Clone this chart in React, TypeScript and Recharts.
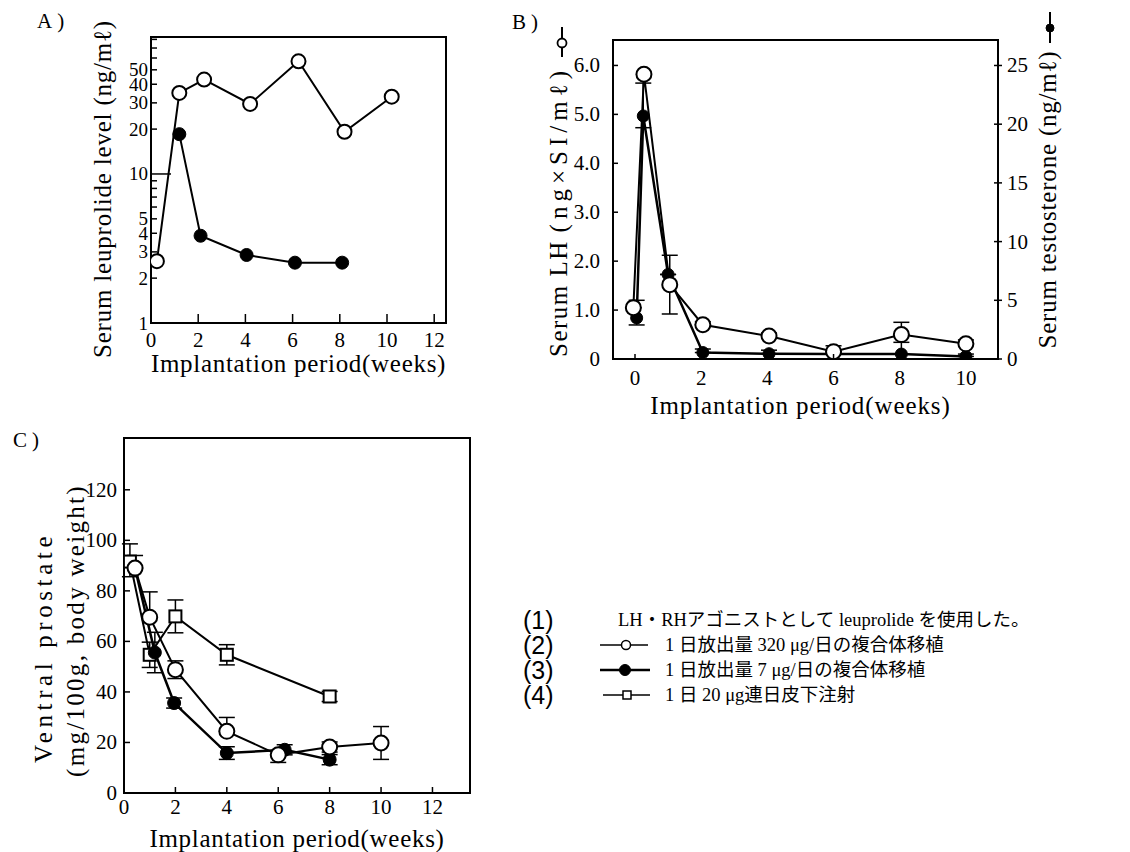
import React from 'react';
import { LineChart, Line, XAxis, YAxis, ReferenceArea, ErrorBar, Label } from 'recharts';

const SERIF = '"Liberation Serif", "DejaVu Serif", serif';
const SANS = '"Liberation Sans", "DejaVu Sans", sans-serif';
const JPF = '"Liberation Serif", "Noto Sans CJK JP", serif';

// ---------------- Panel A : serum leuprolide (log) ----------------
const aWeeksHigh = [0.25, 1.2, 2.25, 4.2, 6.25, 8.2, 10.2];
const aLevelHigh = [2.6, 35, 43, 29.5, 57, 19.2, 33];
const aWeeksLow = [1.2, 2.1, 4.05, 6.1, 8.1];
const aLevelLow = [18.5, 3.85, 2.86, 2.54, 2.54];
const aXTicks = [0, 2, 4, 6, 8, 10, 12];
const aYTicks = [1, 2, 3, 4, 5, 6, 7, 8, 9, 10, 20, 30, 40, 50, 60, 70, 80];
const aYLabels = [1, 2, 3, 4, 5, 10, 20, 30, 40, 50];
const aXDomain: [number, number] = [0, 12.5];
const aYDomain: [number, number] = [1, 83];

// ---------------- Panel B : LH (left) & testosterone (right) ----------------
const bWeeksLH = [-0.05, 0.27, 1.05, 2.05, 4.05, 6.0, 8.05, 10.0];
const bLH = [1.05, 5.82, 1.52, 0.7, 0.47, 0.15, 0.5, 0.31];
const bLHErr = [[0, 0], [0, 0], [0.6, 0.6], [0, 0.06], [0, 0.06], [0, 0.12], [0, 0.25], [0, 0.08]];
const bWeeksT = [0.05, 0.25, 1.0, 2.05, 4.05, 6.0, 8.05, 10.0];
const bT = [3.5, 20.7, 7.2, 0.55, 0.45, 0.42, 0.42, 0.22];
const bTErr = [[0.6, 1.5], [1.0, 2.8], [0, 0], [0, 0.3], [0, 0.3], [0, 0.2], [0, 1.0], [0, 0.2]];
const bXTicks = [0, 2, 4, 6, 8, 10];
const bLHTicks = [0, 1, 2, 3, 4, 5, 6];
const bTTicks = [0, 5, 10, 15, 20, 25];
const bXDomain: [number, number] = [-0.665, 10.97];
const bLHDomain: [number, number] = [0, 6.52];
const bTDomain: [number, number] = [0, 27.17];

// ---------------- Panel C : ventral prostate ----------------
const cWeeksHigh = [0.43, 1.0, 2.0, 4.0, 6.0, 8.0, 10.0];
const cHigh = [89, 69.6, 48.8, 24.4, 15.1, 18.2, 19.8];
const cHighErr = [[0, 5], [0, 10], [3.5, 3.5], [0, 5.5], [3, 0], [2, 2], [6.5, 6.5]];
const cWeeksLow = [0.43, 1.2, 1.95, 4.0, 6.25, 8.0];
const cLow = [89, 55.6, 35.6, 15.8, 17.1, 13.2];
const cLowErr = [[0, 0], [8, 8], [2, 2], [2.5, 2.5], [2, 2], [2, 2]];
const cWeeksInj = [0.23, 1.0, 2.0, 4.0, 8.0];
const cInj = [91.6, 54.7, 69.9, 54.7, 38.2];
const cInjErr = [[6, 7], [5, 5], [6.5, 6.5], [4, 4], [2, 2]];
const cXTicks = [0, 2, 4, 6, 8, 10, 12];
const cYTicks = [0, 20, 40, 60, 80, 100, 120];
const cXDomain: [number, number] = [0, 13.46];
const cYDomain: [number, number] = [0, 140.5];

// ---------------- Texts ----------------
const panelLetters = ['A)', 'B)', 'C)'];
const xTitle = 'Implantation period(weeks)';
const aYTitle = 'Serum leuprolide level (ng/mℓ)';
const bLTitleA = 'Serum LH ';
const bLTitleB = '(ng×SI/mℓ)';
const bRTitle = 'Serum testosterone (ng/mℓ)';
const cYTitle1 = 'Ventral prostate';
const cYTitle2 = '(mg/100g, body weight)';
const legendNums = ['(1)', '(2)', '(3)', '(4)'];
const noteText = 'LH・RHアゴニストとして leuprolide を使用した。';
const seriesNames = ['1 日放出量 320 μg/日の複合体移植', '1 日放出量 7 μg/日の複合体移植', '1 日 20 μg連日皮下注射'];

const rows = (xs: number[], ys: number[], errs?: number[][]) =>
  xs.map((x, i) => ({ x, y: ys[i], err: errs ? errs[i] : [0, 0] }));

type TickOpts = {
  side: 'left' | 'right' | 'bottom';
  labels?: number[];
  fmt?: (v: number) => string;
  gap: number;
  inner: number;
  outer?: number;
  fs: number;
  long?: number[];
  longLen?: number;
};

const makeTick = (o: TickOpts) => (p: any) => {
  const { x, y, payload } = p;
  const v = payload.value;
  const show = !o.labels || o.labels.includes(v);
  const txt = o.fmt ? o.fmt(v) : String(v);
  const len = o.long && o.long.includes(v) ? (o.longLen as number) : o.inner;
  const out = o.outer || 0;
  const tStyle = { fontFamily: SERIF, fontSize: o.fs, fill: '#000' } as any;
  if (o.side === 'bottom') {
    return (
      <g>
        <line x1={x} x2={x} y1={y + out} y2={y - len} stroke="#000" strokeWidth={1.5} />
        {show && (
          <text x={x} y={y + o.gap} textAnchor="middle" dominantBaseline="central" style={tStyle}>
            {txt}
          </text>
        )}
      </g>
    );
  }
  if (o.side === 'left') {
    return (
      <g>
        <line x1={x - out} x2={x + len} y1={y} y2={y} stroke="#000" strokeWidth={1.5} />
        {show && (
          <text x={x - o.gap} y={y} textAnchor="end" dominantBaseline="central" style={tStyle}>
            {txt}
          </text>
        )}
      </g>
    );
  }
  return (
    <g>
      <line x1={x - len} x2={x + out} y1={y} y2={y} stroke="#000" strokeWidth={1.5} />
      {show && (
        <text x={x + o.gap} y={y} textAnchor="start" dominantBaseline="central" style={tStyle}>
          {txt}
        </text>
      )}
    </g>
  );
};

const titleStyle = (ls: number) => ({ fontFamily: SERIF, fontSize: 25, fill: '#000', letterSpacing: ls } as any);

const xTitleLabel = (dy: number, ls: number, dx = 0) => (p: any) => {
  const vb = p.viewBox;
  return (
    <text x={vb.x + vb.width / 2 + dx} y={vb.y + dy} textAnchor="middle" dominantBaseline="central" style={titleStyle(ls)}>
      {xTitle}
    </text>
  );
};

const rotText = (cx: number, cy: number, txt: React.ReactNode, ls: number) => (
  <text
    x={cx}
    y={cy}
    transform={`rotate(-90 ${cx} ${cy})`}
    textAnchor="middle"
    dominantBaseline="central"
    style={titleStyle(ls)}
  >
    {txt}
  </text>
);

const openDot = (r: number) => ({ r, fill: '#fff', stroke: '#000', strokeWidth: 2 });
const filledDot = (r: number) => ({ r, fill: '#000', stroke: '#000', strokeWidth: 1 });
const squareDot = (props: any) => {
  const { cx, cy, index } = props;
  return <rect key={`sq-${index}`} x={cx - 6} y={cy - 6} width={12} height={12} fill="#fff" stroke="#000" strokeWidth={2} />;
};

const W = 1130;
const H = 852;
const abs: React.CSSProperties = { position: 'absolute', left: 0, top: 0 };

function PanelA() {
  const plot = { l: 151, r: 446, t: 37, b: 323 };
  return (
    <div style={abs}>
      <LineChart width={W} height={H} margin={{ top: plot.t, right: W - plot.r, bottom: 0, left: 0 }}>
        <XAxis
          dataKey="x"
          type="number"
          domain={aXDomain}
          allowDataOverflow
          ticks={aXTicks}
          height={H - plot.b}
          axisLine={false}
          tickLine={false}
          tickSize={0}
          tickMargin={0}
          interval={0}
          tick={makeTick({ side: 'bottom', gap: 17, inner: 9, fs: 21 })}
        >
          <Label content={xTitleLabel(40, 0.7)} />
        </XAxis>
        <YAxis
          type="number"
          scale="log"
          domain={aYDomain}
          allowDataOverflow
          ticks={aYTicks}
          width={plot.l}
          axisLine={false}
          tickLine={false}
          tickSize={0}
          tickMargin={0}
          interval={0}
          tick={makeTick({ side: 'left', labels: aYLabels, gap: 3, inner: 6, fs: 19, long: [10], longLen: 20 })}
        >
          <Label content={(p: any) => rotText(p.viewBox.x + p.viewBox.width - 49, p.viewBox.y + p.viewBox.height / 2 + 9, aYTitle, 0.8)} />
        </YAxis>
        <ReferenceArea x1={aXDomain[0]} x2={aXDomain[1]} y1={aYDomain[0]} y2={aYDomain[1]} fill="none" stroke="#000" strokeWidth={2} fillOpacity={0} />
        <Line data={rows(aWeeksLow, aLevelLow)} dataKey="y" type="linear" stroke="#000" strokeWidth={2} dot={filledDot(6.5)} activeDot={false} isAnimationActive={false} />
        <Line data={rows(aWeeksHigh, aLevelHigh)} dataKey="y" type="linear" stroke="#000" strokeWidth={2} dot={openDot(7)} activeDot={false} isAnimationActive={false} />
      </LineChart>
    </div>
  );
}

function PanelB() {
  const plot = { l: 613, r: 998, t: 40, b: 359 };
  const rw = 100;
  return (
    <div style={abs}>
      <LineChart width={W} height={H} margin={{ top: plot.t, right: W - plot.r - rw, bottom: 0, left: 0 }}>
        <XAxis
          dataKey="x"
          type="number"
          domain={bXDomain}
          allowDataOverflow
          ticks={bXTicks}
          height={H - plot.b}
          axisLine={false}
          tickLine={false}
          tickSize={0}
          tickMargin={0}
          interval={0}
          tick={makeTick({ side: 'bottom', gap: 19, inner: 5, fs: 21 })}
        >
          <Label content={xTitleLabel(46, 0.9, -5)} />
        </XAxis>
        <YAxis
          yAxisId="L"
          type="number"
          domain={bLHDomain}
          allowDataOverflow
          ticks={bLHTicks}
          width={plot.l}
          axisLine={false}
          tickLine={false}
          tickSize={0}
          tickMargin={0}
          interval={0}
          tick={makeTick({ side: 'left', gap: 13, inner: 5, fs: 21, fmt: (v) => (v === 0 ? '0' : v.toFixed(1)) })}
        >
          <Label
            content={(p: any) => {
              const vb = p.viewBox;
              const cx = vb.x + vb.width - 55;
              return (
                <g>
                  {rotText(
                    cx,
                    vb.y + vb.height / 2 + 12,
                    <>
                      <tspan style={{ letterSpacing: 1.5 } as any}>{bLTitleA}</tspan>
                      <tspan style={{ letterSpacing: 5 } as any}>{bLTitleB}</tspan>
                    </>,
                    0
                  )}
                  <line x1={cx + 4} x2={cx + 4} y1={vb.y - 13} y2={vb.y + 17} stroke="#000" strokeWidth={2} />
                  <circle cx={cx + 4} cy={vb.y + 3} r={4.5} fill="#fff" stroke="#000" strokeWidth={1.8} />
                </g>
              );
            }}
          />
        </YAxis>
        <YAxis
          yAxisId="T"
          orientation="right"
          type="number"
          domain={bTDomain}
          allowDataOverflow
          ticks={bTTicks}
          width={rw}
          axisLine={false}
          tickLine={false}
          tickSize={0}
          tickMargin={0}
          interval={0}
          tick={makeTick({ side: 'right', gap: 9, inner: 4, outer: 4, fs: 21 })}
        >
          <Label
            content={(p: any) => {
              const vb = p.viewBox;
              const cx = vb.x + 49;
              return (
                <g>
                  {rotText(cx, vb.y + vb.height / 2 + 0, bRTitle, 0.8)}
                  <line x1={cx + 3} x2={cx + 3} y1={vb.y - 28} y2={vb.y + 3} stroke="#000" strokeWidth={2} />
                  <circle cx={cx + 3} cy={vb.y - 12} r={4} fill="#000" stroke="#000" strokeWidth={1} />
                </g>
              );
            }}
          />
        </YAxis>
        <ReferenceArea yAxisId="L" x1={bXDomain[0]} x2={bXDomain[1]} y1={bLHDomain[0]} y2={bLHDomain[1]} fill="none" stroke="#000" strokeWidth={2} fillOpacity={0} />
        <Line yAxisId="T" data={rows(bWeeksT, bT, bTErr)} dataKey="y" type="linear" stroke="#000" strokeWidth={2.5} dot={filledDot(6)} activeDot={false} isAnimationActive={false}>
          <ErrorBar dataKey="err" direction="y" width={8} stroke="#000" strokeWidth={1.5} />
        </Line>
        <Line yAxisId="L" data={rows(bWeeksLH, bLH, bLHErr)} dataKey="y" type="linear" stroke="#000" strokeWidth={2} dot={openDot(7.5)} activeDot={false} isAnimationActive={false}>
          <ErrorBar dataKey="err" direction="y" width={8} stroke="#000" strokeWidth={1.5} />
        </Line>
      </LineChart>
    </div>
  );
}

function PanelC() {
  const plot = { l: 124, r: 470, t: 438, b: 793 };
  return (
    <div style={abs}>
      <LineChart width={W} height={H} margin={{ top: plot.t, right: W - plot.r, bottom: 0, left: 0 }}>
        <XAxis
          dataKey="x"
          type="number"
          domain={cXDomain}
          allowDataOverflow
          ticks={cXTicks}
          height={H - plot.b}
          axisLine={false}
          tickLine={false}
          tickSize={0}
          tickMargin={0}
          interval={0}
          tick={makeTick({ side: 'bottom', gap: 14, inner: 6, fs: 21 })}
        >
          <Label content={xTitleLabel(45, 0.7)} />
        </XAxis>
        <YAxis
          type="number"
          domain={cYDomain}
          allowDataOverflow
          ticks={cYTicks}
          width={plot.l}
          axisLine={false}
          tickLine={false}
          tickSize={0}
          tickMargin={0}
          interval={0}
          tick={makeTick({ side: 'left', gap: 7, inner: 6, fs: 21 })}
        >
          <Label
            content={(p: any) => {
              const vb = p.viewBox;
              const r = vb.x + vb.width;
              const cy = vb.y + vb.height / 2;
              return (
                <g>
                  {rotText(r - 81, cy + 32, cYTitle1, 4.6)}
                  {rotText(r - 49, cy + 15, cYTitle2, 2.3)}
                </g>
              );
            }}
          />
        </YAxis>
        <ReferenceArea x1={cXDomain[0]} x2={cXDomain[1]} y1={cYDomain[0]} y2={cYDomain[1]} fill="none" stroke="#000" strokeWidth={2} fillOpacity={0} />
        <Line data={rows(cWeeksInj, cInj, cInjErr)} dataKey="y" type="linear" stroke="#000" strokeWidth={2} dot={squareDot} activeDot={false} isAnimationActive={false}>
          <ErrorBar dataKey="err" direction="y" width={8} stroke="#000" strokeWidth={1.5} />
        </Line>
        <Line data={rows(cWeeksLow, cLow, cLowErr)} dataKey="y" type="linear" stroke="#000" strokeWidth={2.5} dot={filledDot(6.5)} activeDot={false} isAnimationActive={false}>
          <ErrorBar dataKey="err" direction="y" width={8} stroke="#000" strokeWidth={1.5} />
        </Line>
        <Line data={rows(cWeeksHigh, cHigh, cHighErr)} dataKey="y" type="linear" stroke="#000" strokeWidth={2} dot={openDot(7.5)} activeDot={false} isAnimationActive={false}>
          <ErrorBar dataKey="err" direction="y" width={8} stroke="#000" strokeWidth={1.5} />
        </Line>
      </LineChart>
    </div>
  );
}

function Overlay() {
  const letterStyle = { fontFamily: SERIF, fontSize: 21, fill: '#000', letterSpacing: 5 } as any;
  const numStyle = { fontFamily: SANS, fontSize: 25, fill: '#000' } as any;
  const txtStyle = { fontFamily: JPF, fontSize: 18.5, fill: '#000' } as any;
  const rowsY = [620, 645, 670, 695];
  const markers = [
    (y: number) => (
      <g>
        <line x1={600} x2={648} y1={y} y2={y} stroke="#000" strokeWidth={1.5} />
        <circle cx={626} cy={y} r={4.5} fill="#fff" stroke="#000" strokeWidth={1.5} />
      </g>
    ),
    (y: number) => (
      <g>
        <line x1={600} x2={650} y1={y} y2={y} stroke="#000" strokeWidth={2.5} />
        <circle cx={625} cy={y} r={5.5} fill="#000" stroke="#000" />
      </g>
    ),
    (y: number) => (
      <g>
        <line x1={603} x2={650} y1={y} y2={y} stroke="#000" strokeWidth={1.5} />
        <rect x={623} y={y - 4} width={8} height={8} fill="#fff" stroke="#000" strokeWidth={1.5} />
      </g>
    ),
  ];
  return (
    <svg width={W} height={H} style={{ ...abs, pointerEvents: 'none' }}>
      <text x={37} y={21} dominantBaseline="central" style={letterStyle}>{panelLetters[0]}</text>
      <text x={512} y={22} dominantBaseline="central" style={letterStyle}>{panelLetters[1]}</text>
      <text x={13} y={440} dominantBaseline="central" style={letterStyle}>{panelLetters[2]}</text>
      {legendNums.map((n, i) => (
        <text key={n} x={523} y={rowsY[i]} dominantBaseline="central" style={numStyle}>{n}</text>
      ))}
      <text x={618} y={rowsY[0]} dominantBaseline="central" style={txtStyle}>{noteText}</text>
      {seriesNames.map((s, i) => (
        <g key={s}>
          {markers[i](rowsY[i + 1])}
          <text x={665} y={rowsY[i + 1]} dominantBaseline="central" style={txtStyle}>{s}</text>
        </g>
      ))}
    </svg>
  );
}

export default function App() {
  return (
    <div style={{ position: 'absolute', left: 0, top: 0, width: W, height: H, background: '#fff', overflow: 'hidden' }}>
      <PanelA />
      <PanelB />
      <PanelC />
      <Overlay />
    </div>
  );
}
